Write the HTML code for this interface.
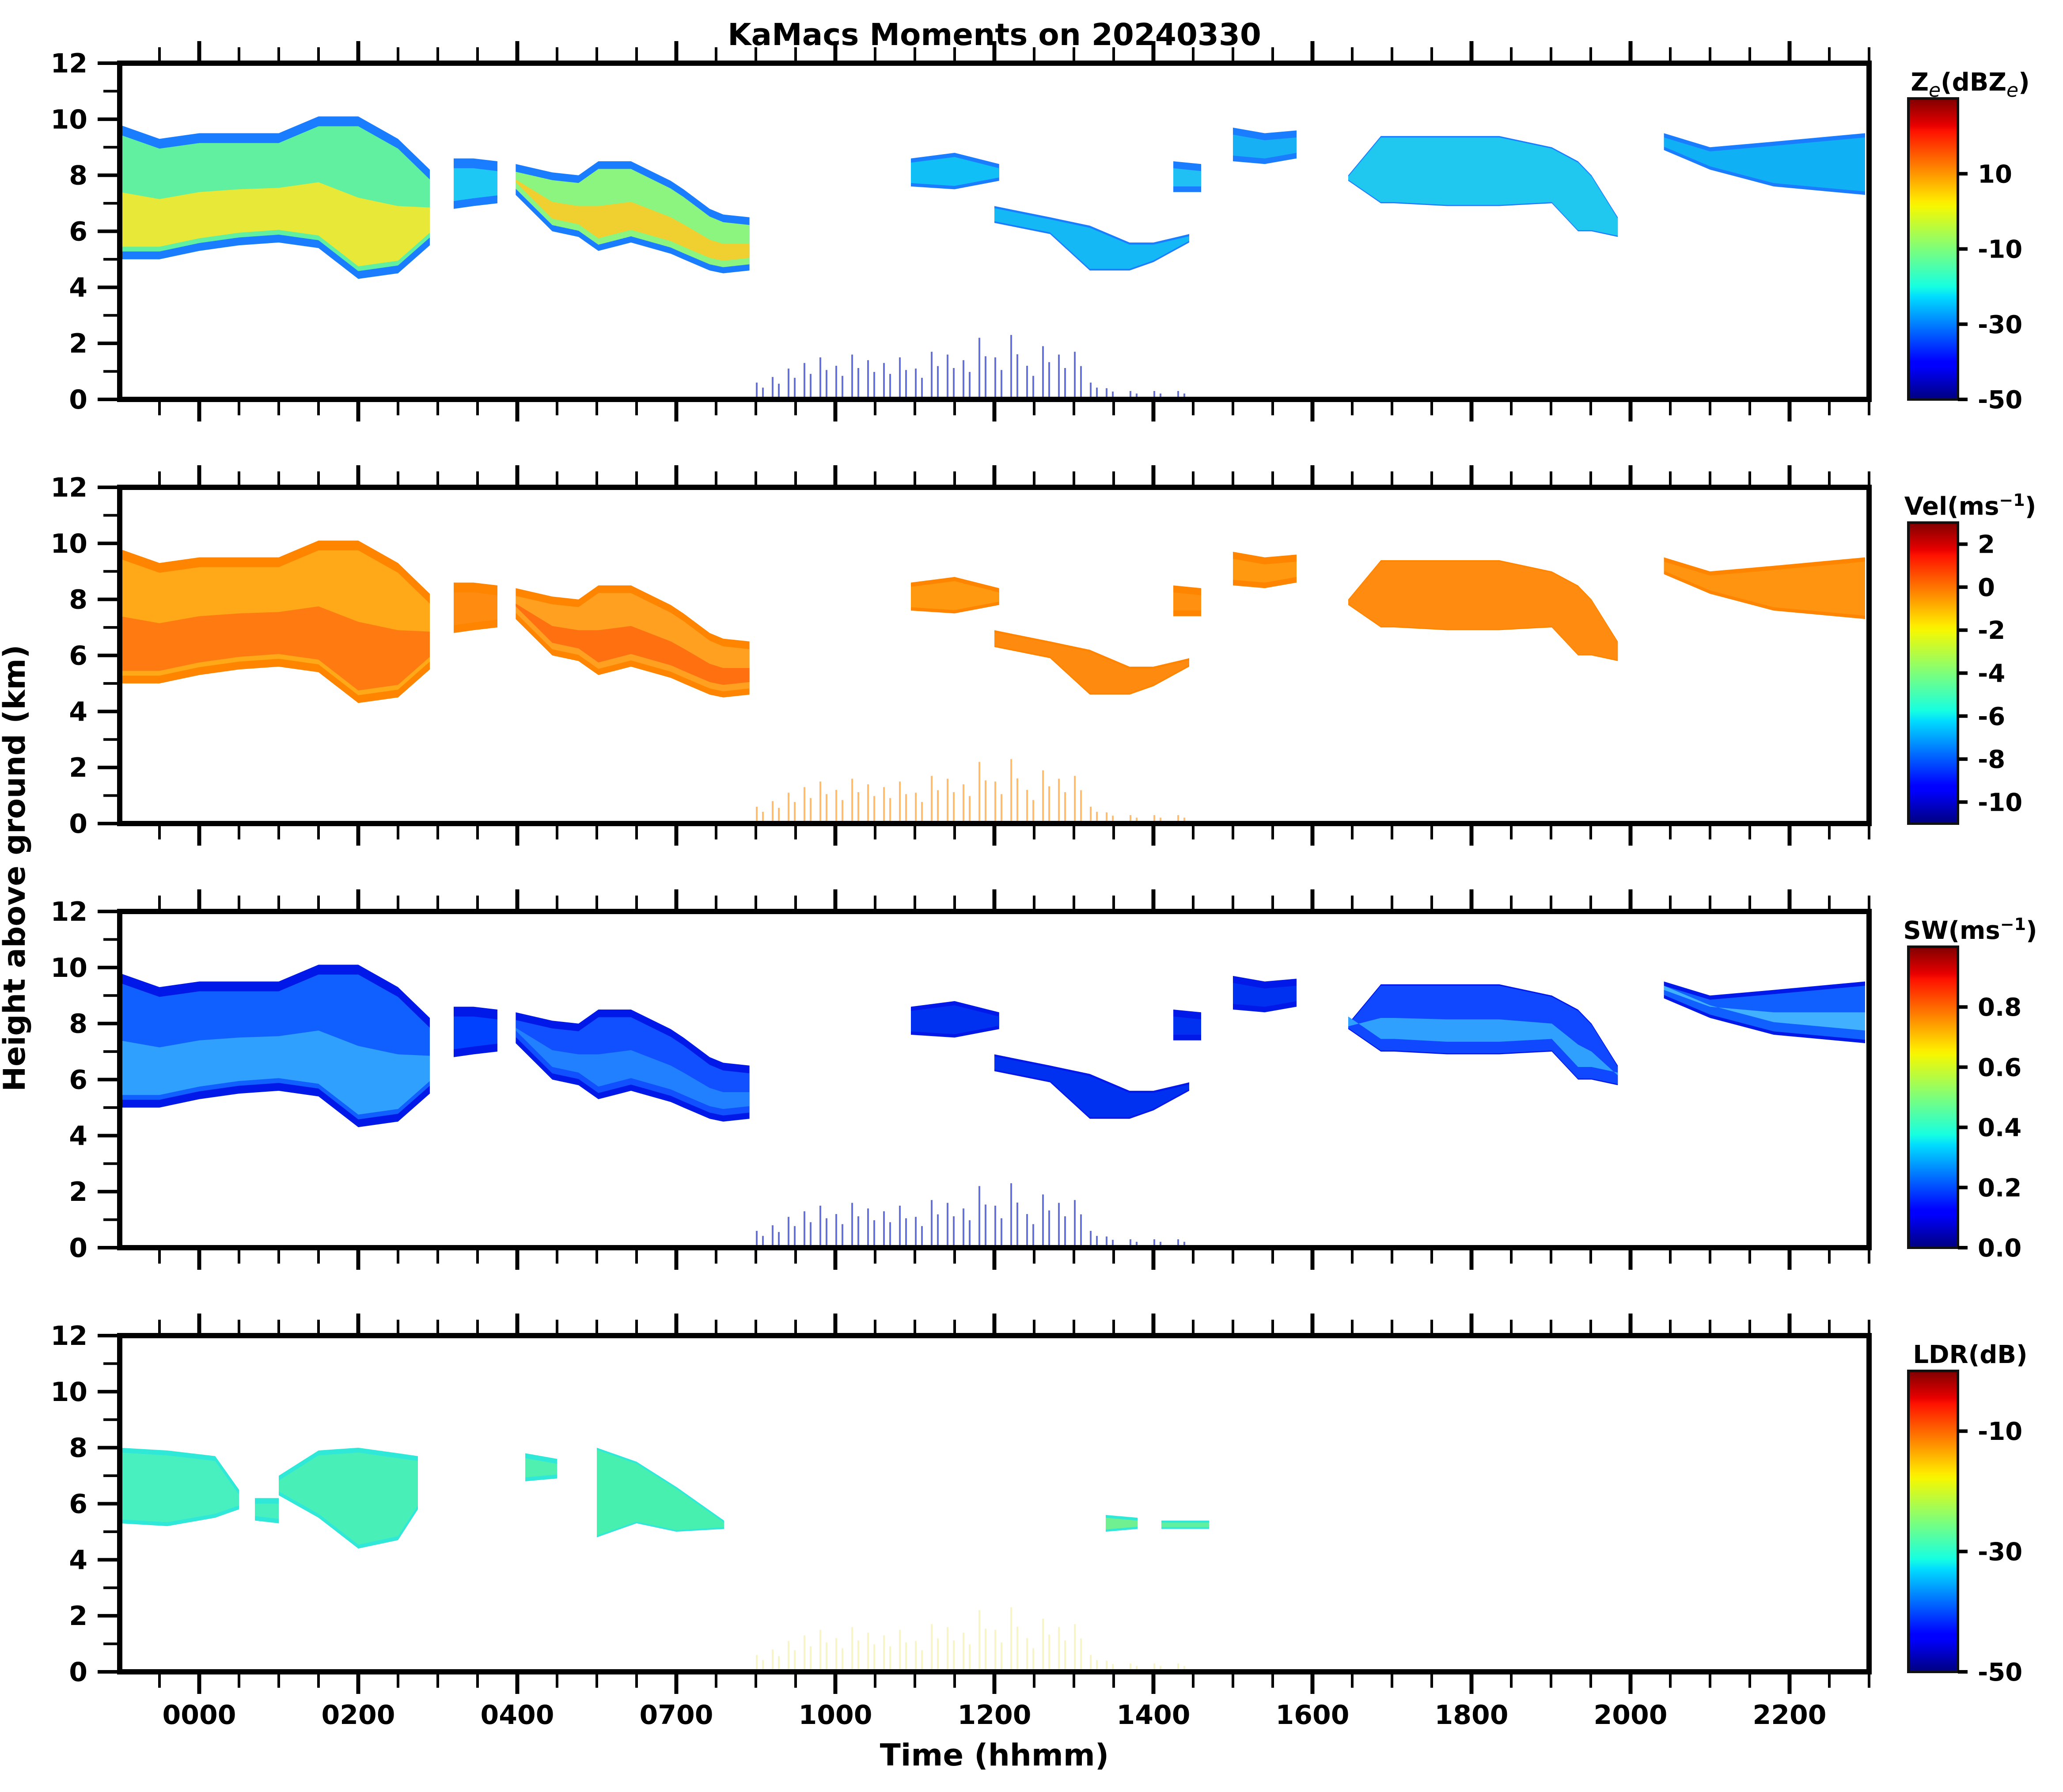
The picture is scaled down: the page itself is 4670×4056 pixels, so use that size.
<!DOCTYPE html>
<html><head><meta charset="utf-8">
<style>
html,body{margin:0;padding:0;background:#fff;}
svg{display:block;font-family:"DejaVu Sans","Liberation Sans",sans-serif;font-weight:bold;}
</style></head>
<body>
<svg id="fig" xmlns="http://www.w3.org/2000/svg" width="4670" height="4056" viewBox="0 0 4670 4056">
<defs>
<linearGradient id="jet" x1="0" y1="1" x2="0" y2="0">
<stop offset="0" stop-color="#00007f"/><stop offset="0.11" stop-color="#0000ff"/><stop offset="0.125" stop-color="#0000ff"/>
<stop offset="0.34" stop-color="#00dbff"/><stop offset="0.375" stop-color="#16ffe1"/><stop offset="0.5" stop-color="#7dff7a"/>
<stop offset="0.64" stop-color="#f4f802"/><stop offset="0.66" stop-color="#ffea00"/><stop offset="0.89" stop-color="#ff1300"/>
<stop offset="0.91" stop-color="#e80000"/><stop offset="1" stop-color="#7f0000"/>
</linearGradient>
</defs>
<text x="2251" y="102" text-anchor="middle" font-size="69">KaMacs Moments on 20240330</text>
<text transform="translate(56,1965) rotate(-90)" text-anchor="middle" font-size="68">Height above ground (km)</text>
<text x="2251" y="3996" text-anchor="middle" font-size="69">Time (hhmm)</text>
<g id="plots"></g>
</svg>
<script>
// ---- data (hours: 0000 label = 0, each major tick = 2 h) ----
const xTickLabels = ["0000","0200","0400","0700","1000","1200","1400","1600","1800","2000","2200"];
const yTickLabels = [0,2,4,6,8,10,12];
const panelNames = ["ze","vel","sw","ldr"];
const cbarTitles = ["Z<tspan font-style='italic' font-weight='normal' dy='14' font-size='44'>e</tspan><tspan dy='-14'>(dBZ</tspan><tspan font-style='italic' font-weight='normal' dy='14' font-size='44'>e</tspan><tspan dy='-14'>)</tspan>","Vel(ms<tspan dy='-20' font-size='38'>−1</tspan><tspan dy='20'>)</tspan>","SW(ms<tspan dy='-20' font-size='38'>−1</tspan><tspan dy='20'>)</tspan>","LDR(dB)"];
const cbarMin = [-50,-11,0,-50];
const cbarMax = [30,3,1,0];
const cbarTicksZe = [10,-10,-30,-50];
const cbarTicksVel = [2,0,-2,-4,-6,-8,-10];
const cbarTicksSW = [0.0,0.2,0.4,0.6,0.8];
const cbarTicksLDR = [-10,-30,-50];
const cbarTickText = [["10","-10","-30","-50"],["2","0","-2","-4","-6","-8","-10"],["0.0","0.2","0.4","0.6","0.8"],["-10","-30","-50"]];

// cloud regions shared by Ze / Vel / SW
const cloudTimes = [
 [-1,-0.5,0,0.5,1,1.5,2,2.5,2.9],
 [3.2,3.45,3.75],
 [3.98,4.44,4.77,5.02,5.43,5.93,6.09,6.42,6.59,6.92],
 [8.95,9.5,10.06],
 [10.0,10.7,11.2,11.7,12.0,12.45],
 [12.25,12.6],
 [13.0,13.4,13.8],
 [14.45,14.86,15.03,15.69,16.35,17.01,17.34,17.51,17.84],
 [18.42,19.0,19.8,20.95]];
const cloudTops = [
 [9.8,9.3,9.5,9.5,9.5,10.1,10.1,9.3,8.2],
 [8.6,8.6,8.5],
 [8.4,8.1,8.0,8.5,8.5,7.8,7.5,6.8,6.6,6.5],
 [8.6,8.8,8.4],
 [6.9,6.5,6.2,5.6,5.6,5.9],
 [8.5,8.4],
 [9.7,9.5,9.6],
 [8.0,9.4,9.4,9.4,9.4,9.0,8.5,8.0,6.5],
 [9.5,9.0,9.2,9.5]];
const cloudBases = [
 [5.0,5.0,5.3,5.5,5.6,5.4,4.3,4.5,5.5],
 [6.8,6.9,7.0],
 [7.3,6.0,5.8,5.3,5.6,5.2,5.0,4.6,4.5,4.6],
 [7.6,7.5,7.8],
 [6.3,5.9,4.6,4.6,4.9,5.6],
 [7.4,7.4],
 [8.5,8.4,8.6],
 [7.8,7.0,7.0,6.9,6.9,7.0,6.0,6.0,5.8],
 [8.9,8.2,7.6,7.3]];
// LDR regions
const ldrTimes = [[-1,-0.4,0.2,0.5],[0.7,1.0],[1.0,1.5,2.0,2.5,2.75],[4.1,4.5],[5.0,5.5,6.0,6.6],[11.4,11.8],[12.1,12.7]];
const ldrTops = [[8.0,7.9,7.7,6.5],[6.2,6.2],[7.0,7.9,8.0,7.8,7.7],[7.8,7.6],[8.0,7.5,6.6,5.4],[5.6,5.5],[5.4,5.4]];
const ldrBases = [[5.3,5.2,5.5,5.8],[5.4,5.3],[6.3,5.5,4.4,4.7,5.8],[6.8,6.9],[4.8,5.3,5.0,5.1],[5.0,5.1],[5.1,5.1]];
// near-surface echoes (hours, top km)
const lowTimes = [7.0,7.2,7.4,7.6,7.8,8.0,8.2,8.4,8.6,8.8,9.0,9.2,9.4,9.6,9.8,10.0,10.2,10.4,10.6,10.8,11.0,11.2,11.4,11.7,12.0,12.3];
const lowTops = [0.6,0.8,1.1,1.3,1.5,1.2,1.6,1.4,1.3,1.5,1.1,1.7,1.6,1.4,2.2,1.5,2.3,1.2,1.9,1.6,1.7,0.6,0.4,0.3,0.3,0.3];

// ---- layout ----
const plotL=271, plotR=4231, plotH=761;
const panelTops=[143,1103,2063,3023];
const cbX=4320, cbW=112, cbOff=80;
const X = h => 451 + 180*h;
const mkY = top => km => top + plotH*(1-km/12);
const NS="http://www.w3.org/2000/svg";
const root=document.getElementById("plots");
function el(tag,attrs,parent){const e=document.createElementNS(NS,tag);for(const k in attrs)e.setAttribute(k,attrs[k]);(parent||root).appendChild(e);return e;}

const styles=[
 {edge:"#1a7dff",main:["#60f0a0","#1ec8f5","#8cf580","#10bff5","#14b8f5","#20c0f5","#18b0f5","#20c8f0","#10b0f5"],core:["#e8e838",null,"#f0d030",null,null,null,null,null,null],low:"#0010c0"},
 {edge:"#ff8400",main:["#ffa818","#ff8c10","#ffa020","#ff9a10","#ff8a10","#ff9010","#ff9a10","#ff8c10","#ff9410"],core:["#ff7a10",null,"#ff7010",null,null,null,null,null,null],low:"#ff9010"},
 {edge:"#0018e8",main:["#1060ff","#0040ff","#1050ff","#0030f0","#0030f0","#0030f0","#0030f0","#1048ff","#1060ff"],core:["#30a0ff",null,"#2080ff",null,null,null,null,"#30a0ff","#40b0ff"],low:"#0010c0"},
 {edge:"#30e8d8",main:["#48f0c0","#48f0c0","#48f0b8","#50f0b0","#48f0b0","#70f090","#60f0a0"],core:[],low:"#e8e060"}
];

function poly(times,tops,bases,Y,shrinkTop,shrinkBase){
 const pts=[];
 for(let i=0;i<times.length;i++)pts.push(X(times[i]).toFixed(1)+","+Y(tops[i]-shrinkTop).toFixed(1));
 for(let i=times.length-1;i>=0;i--)pts.push(X(times[i]).toFixed(1)+","+Y(bases[i]+shrinkBase).toFixed(1));
 return pts.join(" ");
}

panelNames.forEach((pn,p)=>{
 const top=panelTops[p], Y=mkY(top), st=styles[p];
 const g=el("g",{});
 
 
 const clip=el("clipPath",{id:"clip"+p},g);
 el("rect",{x:plotL,y:top,width:plotR-plotL,height:plotH},clip);
 const data=el("g",{"clip-path":"url(#clip"+p+")"},g);
 const T = p<3?cloudTimes:ldrTimes, TP=p<3?cloudTops:ldrTops, B=p<3?cloudBases:ldrBases;
 for(let c=0;c<T.length;c++){
  const o=el("polygon",{points:poly(T[c],TP[c],B[c],Y,0,0),fill:st.edge},data);
  
  
  const span=Math.min(...T[c].map((t,i)=>TP[c][i]-B[c][i]));
  const s=Math.min(0.35,span*0.25);
  el("polygon",{points:poly(T[c],TP[c],B[c],Y,s,s*0.8),fill:st.main[c]},data);
  if(st.core[c]){
   const ct=TP[c].map((t,i)=>B[c][i]+(t-B[c][i])*0.5);
   el("polygon",{points:poly(T[c],ct,B[c],Y,0,0.45),fill:st.core[c]},data);
  }
 }
 // near-surface echoes
 for(let i=0;i<lowTimes.length;i++){
  for(let k=0;k<2;k++){
   const r=el("rect",{x:X(lowTimes[i])+k*14,y:Y(lowTops[i]*(1-k*0.3)),width:4,height:Y(0)-Y(lowTops[i]*(1-k*0.3)),fill:st.low,opacity:p===3?0.35:0.6},data);
   
   
  }
 }
 // spines
 const fr=el("rect",{x:plotL,y:top,width:plotR-plotL,height:plotH,fill:"none",stroke:"#000","stroke-width":12},g);
 
 
 // y ticks
 for(let km=0;km<=12;km++){
  const major=km%2===0;
  el("line",{x1:plotL-(major?50:37),x2:plotL,y1:Y(km),y2:Y(km),stroke:"#000","stroke-width":major?8:6},g);
 }
 yTickLabels.forEach(v=>{
  const t=el("text",{x:198,y:Y(v)+21,"text-anchor":"end","font-size":60},g);
  t.textContent=v;
  
  
 });
 // x ticks top & bottom
 for(let m=-1;m<=42;m++){
  const h=m*0.5; const x=X(h); if(x<plotL-1||x>plotR+1)continue;
  const major=m%4===0;
  const L=major?50:36;
  el("line",{x1:x,x2:x,y1:top+plotH,y2:top+plotH+L,stroke:"#000","stroke-width":major?9:6},g);
  el("line",{x1:x,x2:x,y1:top,y2:top-L,stroke:"#000","stroke-width":major?9:6},g);
 }
 if(p===3){
  xTickLabels.forEach((lab,i)=>{
   const t=el("text",{x:X(i*2),y:3902,"text-anchor":"middle","font-size":60},g);
   t.textContent=lab;
   
   
  });
 }
 // colorbar
 const cbT=top+cbOff, cbB=top+plotH;
 const cb=el("rect",{x:cbX,y:cbT,width:cbW,height:cbB-cbT,fill:"url(#jet)",stroke:"#111","stroke-width":6},g);
 
 
 const tt=el("text",{x:cbX+140,y:top+62,"text-anchor":"middle","font-size":56},g);
 tt.innerHTML=cbarTitles[p];
 
 
 const ticks=[cbarTicksZe,cbarTicksVel,cbarTicksSW,cbarTicksLDR][p];
 ticks.forEach((v,i)=>{
  const y=cbB-(v-cbarMin[p])/(cbarMax[p]-cbarMin[p])*(cbB-cbT);
  el("line",{x1:cbX+cbW,x2:cbX+cbW+22,y1:y,y2:y,stroke:"#000","stroke-width":8},g);
  const t=el("text",{x:cbX+cbW+45,y:y+20,"font-size":56},g);
  t.textContent=cbarTickText[p][i];
  
  
 });
});
</script>
</body></html>
